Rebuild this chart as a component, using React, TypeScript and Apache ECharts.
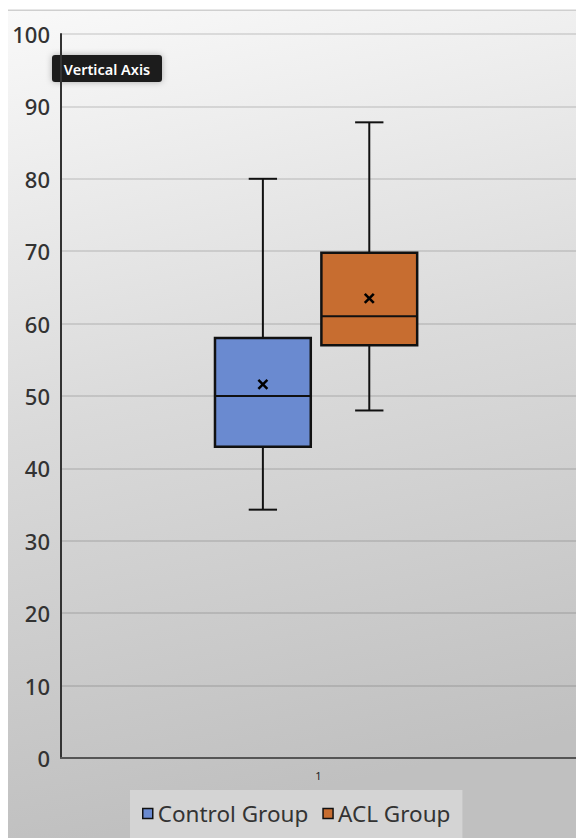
import React, { useEffect, useRef } from "react";
import * as echarts from "echarts";

// ---- data ----
const categories = ["1"];
const seriesNames = ["Control Group", "ACL Group"];
// [min, Q1, median, Q3, max]
const controlStats = [34.3, 43, 50, 58, 80];
const controlMean = 51.6;
const aclStats = [48, 57, 61, 69.8, 87.8];
const aclMean = 63.5;
const yTicks = [0, 10, 20, 30, 40, 50, 60, 70, 80, 90, 100];

const COLORS = ["#6a8ad0", "#c76d30"];
const FONT = "Noto Sans";

const BOX_FRAC = 0.186;
const CAP_FRAC = 0.055;
const OFFSETS = [-0.108, 0.0986];

function makeRender(offsetFrac: number) {
  return (params: any, api: any) => {
    const cat = api.value(0);
    const band = api.size([1, 0])[0];
    const base = api.coord([cat, api.value(3)]);
    const cx = base[0] + offsetFrac * band;
    const y = (i: number) => api.coord([cat, api.value(i)])[1];
    const yMin = y(1), yQ1 = y(2), yMed = y(3), yQ3 = y(4), yMax = y(5), yMean = y(6);
    const w = band * BOX_FRAC;
    const cap = (band * CAP_FRAC) / 2;
    const line = { stroke: "#111", lineWidth: 2 };
    const m = 4.5;
    return {
      type: "group",
      children: [
        { type: "line", shape: { x1: cx, y1: yMax, x2: cx, y2: yQ3 }, style: line },
        { type: "line", shape: { x1: cx, y1: yQ1, x2: cx, y2: yMin }, style: line },
        { type: "line", shape: { x1: cx - cap, y1: yMax, x2: cx + cap, y2: yMax }, style: line },
        { type: "line", shape: { x1: cx - cap, y1: yMin, x2: cx + cap, y2: yMin }, style: line },
        {
          type: "rect",
          shape: { x: cx - w / 2, y: yQ3, width: w, height: yQ1 - yQ3 },
          style: { fill: api.visual("color"), stroke: "#111", lineWidth: 2.5 },
        },
        { type: "line", shape: { x1: cx - w / 2, y1: yMed, x2: cx + w / 2, y2: yMed }, style: line },
        { type: "line", shape: { x1: cx - m, y1: yMean - m, x2: cx + m, y2: yMean + m }, style: { stroke: "#000", lineWidth: 2.5 } },
        { type: "line", shape: { x1: cx - m, y1: yMean + m, x2: cx + m, y2: yMean - m }, style: { stroke: "#000", lineWidth: 2.5 } },
      ],
    };
  };
}

export default function App() {
  const ref = useRef<HTMLDivElement>(null);
  useEffect(() => {
    document.body.style.margin = "0";
    const chart = echarts.init(ref.current!, null, { renderer: "svg" });
    const stats = [controlStats, aclStats];
    const means = [controlMean, aclMean];
    chart.setOption({
      animation: false,
      backgroundColor: "#ffffff",
      textStyle: { fontFamily: FONT },
      graphic: [
        {
          type: "rect",
          z: -100,
          silent: true,
          shape: { x: 8, y: 10, width: 568, height: 828 },
          style: {
            fill: {
              type: "linear",
              x: 0, y: 0, x2: 0.15, y2: 1,
              colorStops: [
                { offset: 0, color: "#f9f9f9" },
                { offset: 0.5, color: "#dadada" },
                { offset: 1, color: "#c0c0c0" },
              ],
            },
          },
        },
        {
          type: "rect",
          z: -99,
          silent: true,
          shape: { x: 8, y: 9.5, width: 568, height: 1.5 },
          style: { fill: "#cfcfcf" },
        },
        {
          type: "group",
          z: 100,
          children: [
            {
              type: "rect",
              shape: { x: 52, y: 55, width: 110, height: 27, r: 3 },
              style: { fill: "#1c1c1c", shadowBlur: 6, shadowColor: "rgba(0,0,0,0.3)" },
            },
            {
              type: "text",
              x: 107,
              y: 69,
              style: {
                text: "Vertical Axis",
                fill: "#ffffff",
                font: `600 14.5px "${FONT}"`,
                align: "center",
                verticalAlign: "middle",
              },
            },
          ],
        },
      ],
      grid: { left: 61, right: 0, top: 34, bottom: 80 },
      legend: {
        data: seriesNames.map((n) => ({ name: n, itemStyle: { borderColor: "#111", borderWidth: 1.5 } })),
        icon: "rect",
        itemWidth: 10,
        itemHeight: 10,
        itemGap: 14,
        left: 130,
        top: 790,
        padding: [12, 12, 16, 12],
        backgroundColor: "#d4d4d4",
        textStyle: { fontSize: 22.5, color: "#333", fontFamily: FONT },
      },
      xAxis: {
        type: "category",
        data: categories,
        axisLine: { lineStyle: { color: "#555", width: 2 } },
        axisTick: { show: false },
        axisLabel: { fontSize: 11, color: "#222", margin: 12 },
        splitLine: { show: false },
      },
      yAxis: {
        type: "value",
        min: yTicks[0],
        max: yTicks[yTicks.length - 1],
        interval: yTicks[1] - yTicks[0],
        axisLine: { show: true, lineStyle: { color: "#333", width: 2 } },
        axisTick: { show: false },
        axisLabel: { fontSize: 22, color: "#333", margin: 11, fontWeight: 500 },
        splitLine: { lineStyle: { color: "rgba(0,0,0,0.14)", width: 1.5 } },
      },
      series: seriesNames.map((name, i) => ({
        name,
        type: "custom",
        itemStyle: { color: COLORS[i] },
        renderItem: makeRender(OFFSETS[i]),
        encode: { x: 0, y: [1, 2, 3, 4, 5, 6] },
        data: [[0, ...stats[i], means[i]]],
        z: 5,
      })),
    });
    return () => chart.dispose();
  }, []);
  return <div ref={ref} style={{ width: 576, height: 838 }} />;
}
